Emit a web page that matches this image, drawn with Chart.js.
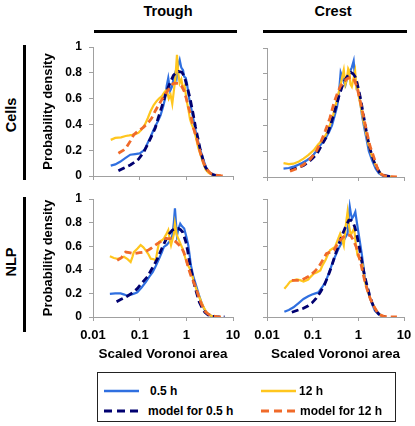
<!DOCTYPE html>
<html>
<head>
<meta charset="utf-8">
<script src="https://cdn.jsdelivr.net/npm/chart.js@4.4.1/dist/chart.umd.min.js"></script>
<style>
  body { margin: 0; background: #fff; }
  #wrap { position: relative; width: 415px; height: 426px; overflow: hidden;
          font-family: "Liberation Sans", Arial, sans-serif; font-weight: bold; color: #000; }
  #wrap canvas { position: absolute; }
  .lbl { position: absolute; transform: translate(-50%, -50%); white-space: nowrap; font-size: 14.5px; }
  .rot { transform: translate(-50%, -50%) rotate(-90deg); }
  .bar { position: absolute; background: #000; }
  #legend { position: absolute; left: 97px; top: 372px; width: 299px; height: 50px;
            border: 1px solid #222; box-sizing: border-box; }
  .item { position: absolute; font-size: 12px; line-height: 14px; white-space: nowrap; }
  .item svg { position: absolute; left: 0; top: 4px; }
  .item span { position: absolute; top: 0; }
</style>
</head>
<body>
<div id="wrap">
  <div class="lbl" style="left:168px;top:11px">Trough</div>
  <div class="lbl" style="left:333px;top:11px">Crest</div>
  <div class="bar" style="left:94px;top:30px;width:143px;height:3px"></div>
  <div class="bar" style="left:263px;top:30px;width:144px;height:3px"></div>
  <div class="lbl rot" style="left:11px;top:115px">Cells</div>
  <div class="lbl rot" style="left:11px;top:262px">NLP</div>
  <div class="bar" style="left:23px;top:45px;width:3px;height:135px"></div>
  <div class="bar" style="left:23px;top:197px;width:3px;height:135px"></div>

  <canvas id="cellsTrough"></canvas>
  <canvas id="cellsCrest"></canvas>
  <canvas id="nlpTrough"></canvas>
  <canvas id="nlpCrest"></canvas>

  <div id="legend"></div>
</div>

<script>
// x positions on log axis, y = probability density
const xTicks = [0.01, 0.1, 1, 10];
const yTicks = [0, 0.2, 0.4, 0.6, 0.8, 1];

// Cells, trough
const cellsTrough05 = [[0.024,0.08],[0.03,0.09],[0.038,0.11],[0.05,0.14],[0.063,0.165],[0.08,0.17],[0.1,0.175],[0.115,0.19],[0.13,0.21],[0.15,0.26],[0.17,0.3],[0.2,0.36],[0.25,0.43],[0.28,0.47],[0.32,0.54],[0.35,0.6],[0.38,0.7],[0.41,0.76],[0.45,0.66],[0.49,0.69],[0.53,0.75],[0.58,0.8],[0.62,0.76],[0.67,0.86],[0.72,0.9],[0.78,0.84],[0.85,0.82],[0.9,0.77],[0.97,0.76],[1.03,0.72],[1.15,0.6],[1.3,0.51],[1.45,0.42],[1.6,0.34],[1.75,0.28],[2.0,0.2],[2.35,0.12],[2.7,0.06],[3.0,0.034],[3.5,0.015],[3.9,0.008],[4.6,0.003]];
const cellsTrough12 = [[0.024,0.28],[0.03,0.295],[0.04,0.3],[0.05,0.31],[0.06,0.315],[0.07,0.32],[0.08,0.325],[0.094,0.335],[0.11,0.36],[0.13,0.4],[0.15,0.45],[0.17,0.5],[0.2,0.55],[0.23,0.58],[0.26,0.6],[0.3,0.62],[0.34,0.65],[0.38,0.67],[0.42,0.6],[0.46,0.63],[0.5,0.56],[0.54,0.66],[0.58,0.75],[0.63,0.94],[0.67,0.8],[0.72,0.72],[0.78,0.75],[0.85,0.68],[0.92,0.7],[1.0,0.6],[1.1,0.52],[1.2,0.44],[1.3,0.4],[1.45,0.36],[1.6,0.3],[1.8,0.22],[2.0,0.17],[2.3,0.1],[2.6,0.05],[3.0,0.025],[3.6,0.01],[4.6,0.004],[5.5,0.002]];
const cellsTroughModel05 = [[0.035,0.04],[0.045,0.06],[0.063,0.085],[0.08,0.11],[0.094,0.13],[0.12,0.18],[0.14,0.227],[0.17,0.29],[0.215,0.37],[0.25,0.45],[0.3,0.54],[0.35,0.62],[0.41,0.69],[0.47,0.74],[0.53,0.78],[0.6,0.8],[0.68,0.81],[0.8,0.805],[0.88,0.78],[0.95,0.745],[1.08,0.67],[1.22,0.59],[1.4,0.48],[1.57,0.38],[1.8,0.28],[2.0,0.2],[2.3,0.12],[2.55,0.07],[2.9,0.04],[3.3,0.02],[3.9,0.008],[4.6,0.002]];
const cellsTroughModel12 = [[0.035,0.176],[0.045,0.2],[0.053,0.227],[0.063,0.27],[0.074,0.318],[0.09,0.345],[0.12,0.377],[0.15,0.41],[0.18,0.447],[0.22,0.51],[0.28,0.576],[0.34,0.625],[0.41,0.667],[0.47,0.7],[0.54,0.72],[0.68,0.718],[0.78,0.7],[0.88,0.667],[1.0,0.6],[1.1,0.54],[1.22,0.486],[1.4,0.38],[1.7,0.28],[2.0,0.18],[2.35,0.1],[2.8,0.05],[3.3,0.02],[4.2,0.006],[5.5,0.002],[6.9,0]];

// Cells, crest
const cellsCrest05 = [[0.023,0.065],[0.03,0.07],[0.038,0.08],[0.045,0.09],[0.06,0.11],[0.075,0.13],[0.09,0.15],[0.105,0.175],[0.124,0.207],[0.15,0.25],[0.19,0.297],[0.23,0.35],[0.265,0.4],[0.3,0.47],[0.34,0.54],[0.37,0.62],[0.41,0.81],[0.45,0.77],[0.49,0.73],[0.52,0.71],[0.58,0.78],[0.65,0.81],[0.72,0.85],[0.79,0.9],[0.83,0.8],[0.86,0.74],[0.93,0.7],[1.0,0.66],[1.1,0.58],[1.2,0.48],[1.35,0.38],[1.5,0.3],[1.7,0.2],[2.0,0.13],[2.4,0.065],[2.8,0.03],[3.4,0.01],[4.2,0.002]];
const cellsCrest12 = [[0.023,0.108],[0.03,0.1],[0.038,0.103],[0.05,0.12],[0.063,0.142],[0.08,0.17],[0.105,0.207],[0.13,0.25],[0.174,0.297],[0.21,0.35],[0.244,0.413],[0.28,0.48],[0.31,0.54],[0.35,0.62],[0.4,0.7],[0.44,0.77],[0.48,0.83],[0.52,0.72],[0.56,0.76],[0.6,0.84],[0.64,0.82],[0.67,0.72],[0.72,0.7],[0.78,0.76],[0.85,0.82],[0.9,0.7],[0.96,0.72],[1.03,0.62],[1.1,0.57],[1.2,0.5],[1.3,0.43],[1.4,0.38],[1.6,0.28],[1.83,0.2],[2.2,0.12],[2.6,0.065],[3.0,0.03],[3.6,0.013],[4.5,0.004],[5.9,0]];
const cellsCrestModel05 = [[0.032,0.052],[0.045,0.07],[0.063,0.09],[0.08,0.115],[0.1,0.145],[0.124,0.18],[0.16,0.25],[0.2,0.31],[0.25,0.41],[0.31,0.52],[0.37,0.62],[0.44,0.7],[0.5,0.745],[0.56,0.775],[0.62,0.795],[0.69,0.81],[0.77,0.8],[0.86,0.775],[0.95,0.72],[1.1,0.62],[1.25,0.51],[1.4,0.41],[1.6,0.3],[1.83,0.21],[2.2,0.12],[2.6,0.065],[3.0,0.03],[3.6,0.013],[5,0.002]];
const cellsCrestModel12 = [[0.032,0.045],[0.045,0.065],[0.063,0.095],[0.089,0.14],[0.12,0.2],[0.15,0.27],[0.19,0.36],[0.24,0.46],[0.29,0.57],[0.34,0.64],[0.4,0.7],[0.47,0.735],[0.56,0.76],[0.64,0.77],[0.73,0.775],[0.82,0.75],[0.93,0.7],[1.05,0.62],[1.2,0.53],[1.37,0.43],[1.55,0.34],[1.8,0.24],[2.2,0.15],[2.6,0.07],[3.0,0.026],[3.8,0.008],[5,0.002],[7,0]];

// NLP, trough
const nlpTrough05 = [[0.023,0.196],[0.03,0.2],[0.039,0.2],[0.047,0.19],[0.054,0.18],[0.065,0.19],[0.078,0.2],[0.089,0.21],[0.11,0.25],[0.135,0.295],[0.16,0.34],[0.19,0.38],[0.22,0.43],[0.26,0.494],[0.3,0.55],[0.33,0.594],[0.38,0.61],[0.43,0.636],[0.47,0.66],[0.5,0.69],[0.54,0.8],[0.57,0.92],[0.6,0.8],[0.63,0.69],[0.68,0.75],[0.74,0.79],[0.8,0.77],[0.9,0.75],[1.0,0.68],[1.1,0.608],[1.18,0.52],[1.25,0.44],[1.4,0.35],[1.62,0.267],[1.85,0.19],[2.1,0.125],[2.4,0.07],[2.7,0.04],[3.2,0.015],[3.7,0.004]];
const nlpTrough12 = [[0.023,0.514],[0.028,0.5],[0.033,0.494],[0.04,0.5],[0.046,0.51],[0.055,0.49],[0.064,0.466],[0.07,0.51],[0.075,0.55],[0.09,0.58],[0.105,0.61],[0.12,0.59],[0.135,0.565],[0.155,0.53],[0.173,0.494],[0.2,0.49],[0.22,0.48],[0.24,0.56],[0.26,0.636],[0.3,0.65],[0.33,0.665],[0.37,0.7],[0.41,0.736],[0.44,0.66],[0.47,0.608],[0.5,0.65],[0.54,0.7],[0.57,0.79],[0.62,0.7],[0.67,0.665],[0.75,0.62],[0.83,0.58],[0.95,0.5],[1.07,0.44],[1.25,0.395],[1.4,0.32],[1.62,0.24],[1.85,0.18],[2.1,0.125],[2.4,0.075],[2.7,0.04],[3.2,0.015],[3.7,0.006],[4.5,0.002]];
const nlpTroughModel05 = [[0.032,0.13],[0.04,0.15],[0.054,0.176],[0.07,0.205],[0.089,0.24],[0.11,0.285],[0.146,0.34],[0.19,0.42],[0.24,0.494],[0.29,0.57],[0.36,0.65],[0.42,0.7],[0.5,0.736],[0.58,0.745],[0.67,0.75],[0.75,0.74],[0.83,0.72],[0.9,0.68],[0.98,0.636],[1.08,0.55],[1.2,0.44],[1.35,0.35],[1.5,0.267],[1.7,0.19],[1.9,0.125],[2.2,0.075],[2.5,0.04],[2.9,0.018],[3.4,0.006],[4.5,0.001],[6.6,0]];
const nlpTroughModel12 = [[0.033,0.48],[0.04,0.5],[0.05,0.55],[0.06,0.545],[0.075,0.537],[0.1,0.545],[0.124,0.55],[0.15,0.565],[0.173,0.58],[0.2,0.6],[0.24,0.622],[0.3,0.645],[0.36,0.665],[0.47,0.665],[0.6,0.636],[0.77,0.594],[0.88,0.55],[0.98,0.494],[1.1,0.42],[1.25,0.352],[1.45,0.29],[1.62,0.24],[1.85,0.17],[2.1,0.11],[2.5,0.05],[2.9,0.026],[3.5,0.01],[4.5,0.003],[6.0,0]];

// NLP, crest
const nlpCrest05 = [[0.024,0.045],[0.03,0.06],[0.038,0.082],[0.05,0.12],[0.063,0.153],[0.08,0.175],[0.097,0.19],[0.115,0.2],[0.135,0.21],[0.16,0.25],[0.19,0.295],[0.22,0.36],[0.26,0.437],[0.3,0.5],[0.37,0.58],[0.42,0.62],[0.48,0.65],[0.53,0.68],[0.58,0.707],[0.62,0.85],[0.65,0.935],[0.69,0.87],[0.73,0.835],[0.8,0.86],[0.86,0.89],[0.93,0.8],[1.0,0.72],[1.1,0.62],[1.2,0.523],[1.3,0.42],[1.4,0.324],[1.6,0.23],[1.83,0.153],[2.05,0.1],[2.3,0.054],[2.8,0.02],[3.3,0.006],[4,0.001]];
const nlpCrest12 = [[0.024,0.24],[0.028,0.27],[0.032,0.3],[0.038,0.31],[0.045,0.318],[0.055,0.31],[0.063,0.3],[0.072,0.31],[0.08,0.318],[0.09,0.34],[0.105,0.366],[0.125,0.38],[0.147,0.395],[0.165,0.44],[0.19,0.48],[0.215,0.53],[0.24,0.565],[0.27,0.58],[0.31,0.594],[0.35,0.65],[0.4,0.707],[0.44,0.66],[0.48,0.608],[0.52,0.75],[0.58,0.89],[0.62,0.78],[0.68,0.693],[0.74,0.72],[0.81,0.75],[0.88,0.62],[0.96,0.523],[1.05,0.5],[1.2,0.466],[1.3,0.38],[1.4,0.295],[1.6,0.22],[1.83,0.153],[2.2,0.09],[2.6,0.04],[3.1,0.015],[3.9,0.002]];
const nlpCrestModel05 = [[0.035,0.04],[0.045,0.055],[0.063,0.074],[0.08,0.095],[0.097,0.12],[0.12,0.16],[0.147,0.21],[0.18,0.27],[0.22,0.352],[0.26,0.43],[0.31,0.523],[0.37,0.61],[0.44,0.693],[0.52,0.76],[0.62,0.82],[0.69,0.82],[0.76,0.807],[0.84,0.76],[0.93,0.693],[1.05,0.59],[1.2,0.466],[1.35,0.36],[1.55,0.267],[1.75,0.19],[1.98,0.125],[2.3,0.065],[2.8,0.026],[3.3,0.008],[3.9,0]];
const nlpCrestModel12 = [[0.035,0.31],[0.045,0.31],[0.054,0.31],[0.07,0.33],[0.089,0.352],[0.11,0.385],[0.135,0.423],[0.165,0.48],[0.2,0.537],[0.24,0.55],[0.29,0.565],[0.34,0.61],[0.4,0.65],[0.46,0.675],[0.52,0.693],[0.6,0.695],[0.69,0.688],[0.78,0.65],[0.9,0.594],[1.0,0.53],[1.14,0.45],[1.25,0.38],[1.4,0.295],[1.6,0.22],[1.83,0.153],[2.2,0.09],[2.6,0.04],[3.1,0.016],[3.6,0.006],[5,0.001],[7,0]];

const seriesNames = ['0.5 h', '12 h', 'model for 0.5 h', 'model for 12 h'];
const BLUE = '#2f6fe0', YELLOW = '#ffc61e', NAVY = '#000070', ORANGE = '#f06a2a';
const AXIS = '#a0a0a0';
const FONT = '"Liberation Sans", Arial, sans-serif';

function toXY(arr) {
    return arr.map(p => ({ x: p[0], y: p[1] }));
}

// box = pixel position of the chart area on the page
function makePanel(id, box, showY, showX, s05, s12, m05, m12) {
    var yW = showY ? 57 : 24;
    var xH = showX ? 46 : 8;
    var padT = 8, padR = 12;
    var cv = document.getElementById(id);
    var left = box.l - yW, top = box.t - padT;
    cv.style.left = left + 'px';
    cv.style.top = top + 'px';
    cv.width = box.r + padR - left;
    cv.height = box.b + xH - top;

    new Chart(cv.getContext('2d'), {
        type: 'line',
        data: {
            datasets: [
                // first dataset is drawn on top
                { label: seriesNames[3], data: toXY(m12), borderColor: ORANGE, borderWidth: 2.8, borderDash: [7, 4] },
                { label: seriesNames[2], data: toXY(m05), borderColor: NAVY, borderWidth: 2.8, borderDash: [7, 4] },
                { label: seriesNames[1], data: toXY(s12), borderColor: YELLOW, borderWidth: 2.2 },
                { label: seriesNames[0], data: toXY(s05), borderColor: BLUE, borderWidth: 2.2 }
            ]
        },
        options: {
            responsive: false,
            animation: false,
            layout: { padding: { left: 0, top: padT, right: padR, bottom: 0 } },
            elements: { point: { radius: 0 }, line: { tension: 0, fill: false } },
            plugins: { legend: { display: false }, tooltip: { enabled: false } },
            scales: {
                x: {
                    type: 'logarithmic',
                    min: 0.01,
                    max: 10,
                    afterBuildTicks: function (scale) {
                        scale.ticks = xTicks.map(v => ({ value: v }));
                    },
                    afterFit: function (scale) {
                        scale.height = xH;
                        scale.paddingLeft = 0; scale.paddingRight = 0;
                    },
                    ticks: {
                        display: showX,
                        autoSkip: false,
                        maxRotation: 0,
                        padding: 7,
                        color: '#000',
                        font: { family: FONT, size: 13, weight: 'bold' },
                        callback: function (v) { return String(v); }
                    },
                    grid: { drawOnChartArea: false, drawTicks: true, tickLength: 4, color: AXIS },
                    border: { color: AXIS, width: 1 },
                    title: {
                        display: showX,
                        text: 'Scaled Voronoi area',
                        color: '#000',
                        padding: { top: 0, bottom: 1 },
                        font: { family: FONT, size: 13.5, weight: 'bold' }
                    }
                },
                y: {
                    min: 0,
                    max: 1,
                    afterBuildTicks: function (scale) {
                        scale.ticks = yTicks.map(v => ({ value: v }));
                    },
                    afterFit: function (scale) {
                        scale.width = yW;
                        scale.paddingTop = 0; scale.paddingBottom = 0;
                    },
                    ticks: {
                        display: showY,
                        padding: 7,
                        color: '#000',
                        font: { family: FONT, size: 12, weight: 'bold' },
                        callback: function (v) { return String(v); }
                    },
                    grid: { drawOnChartArea: false, drawTicks: true, tickLength: 4, color: AXIS },
                    border: { color: AXIS, width: 1 },
                    title: {
                        display: showY,
                        text: 'Probability density',
                        color: '#000',
                        padding: { top: 5, bottom: 0 },
                        font: { family: FONT, size: 13, weight: 'bold' }
                    }
                }
            }
        }
    });
}

makePanel('cellsTrough', { l: 93, r: 233, t: 47, b: 176 }, true, false,
    cellsTrough05, cellsTrough12, cellsTroughModel05, cellsTroughModel12);
makePanel('cellsCrest', { l: 267, r: 404, t: 48, b: 177 }, false, false,
    cellsCrest05, cellsCrest12, cellsCrestModel05, cellsCrestModel12);
makePanel('nlpTrough', { l: 93, r: 233, t: 199, b: 317 }, true, true,
    nlpTrough05, nlpTrough12, nlpTroughModel05, nlpTroughModel12);
makePanel('nlpCrest', { l: 267, r: 404, t: 199, b: 317 }, false, true,
    nlpCrest05, nlpCrest12, nlpCrestModel05, nlpCrestModel12);

// legend: two columns, two rows
var legendItems = [
    { name: seriesNames[0], color: BLUE, dash: false, x: 6, y: 18, tx: 52 },
    { name: seriesNames[1], color: YELLOW, dash: false, x: 163, y: 18, tx: 201 },
    { name: seriesNames[2], color: NAVY, dash: true, x: 6, y: 38, tx: 50 },
    { name: seriesNames[3], color: ORANGE, dash: true, x: 163, y: 38, tx: 202 }
];
var lg = document.getElementById('legend');
legendItems.forEach(function (it) {
    var d = document.createElement('div');
    d.className = 'item';
    d.style.left = it.x + 'px';
    d.style.top = (it.y - 7) + 'px';
    d.innerHTML = '<svg width="36" height="6"><line x1="0" y1="3" x2="35" y2="3" stroke="' + it.color +
        '" stroke-width="' + (it.dash ? 3 : 2.5) + '"' + (it.dash ? ' stroke-dasharray="8,5"' : '') + '/></svg>' +
        '<span style="left:' + (it.tx - it.x) + 'px">' + it.name + '</span>';
    lg.appendChild(d);
});
</script>
</body>
</html>
